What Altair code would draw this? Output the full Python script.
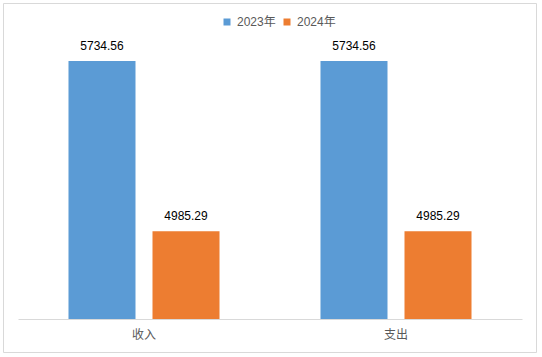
import altair as alt
import pandas as pd

categories = ["收入", "支出"]
years = ["2023年", "2024年"]
values_2023 = [5734.56, 5734.56]
values_2024 = [4985.29, 4985.29]

rows = []
for i, c in enumerate(categories):
    rows.append({"category": c, "year": years[0], "value": values_2023[i]})
    rows.append({"category": c, "year": years[1], "value": values_2024[i]})
df = pd.DataFrame(rows)

FONT = "Liberation Sans, Noto Sans CJK SC, sans-serif"

base = alt.Chart(df).encode(
    x=alt.X("category:N", sort=categories, title=None,
            scale=alt.Scale(paddingInner=0, paddingOuter=0),
            axis=alt.Axis(labelAngle=0, ticks=False, domainColor="#D9D9D9",
                          labelColor="#595959", labelFontSize=12, labelFont=FONT,
                          labelPadding=10, grid=False)),
    xOffset=alt.XOffset("year:N", sort=years,
                        scale=alt.Scale(paddingInner=0.2024, paddingOuter=0.601)),
    y=alt.Y("value:Q", axis=None, scale=alt.Scale(domain=[4600, 5800], zero=False, nice=False)),
)

bars = base.mark_bar(clip=True).encode(
    color=alt.Color("year:N", sort=years,
                    scale=alt.Scale(domain=years, range=["#5B9BD5", "#ED7D31"]),
                    legend=alt.Legend(title=None, orient="none", direction="horizontal",
                                      legendX=203, legendY=-30, symbolType="square",
                                      symbolSize=49, symbolStrokeWidth=0,
                                      labelColor="#595959", labelFontSize=12, labelFont=FONT,
                                      columnPadding=5, labelOffset=4, padding=0))
)

labels = base.mark_text(dy=-15, baseline="middle", fontSize=12, font=FONT, color="#000000").encode(
    text=alt.Text("value:Q", format=".2f")
)

one = pd.DataFrame({"a": [0]})
L, R, T, B = -14.5, 518.5, -42.5, 306.5
border_style = dict(color="#D9D9D9", strokeWidth=1)
top = alt.Chart(one).mark_rule(**border_style).encode(x=alt.value(L), x2=alt.value(R), y=alt.value(T))
bottom = alt.Chart(one).mark_rule(**border_style).encode(x=alt.value(L), x2=alt.value(R), y=alt.value(B))
left = alt.Chart(one).mark_rule(**border_style).encode(x=alt.value(L), y=alt.value(T), y2=alt.value(B))
right = alt.Chart(one).mark_rule(**border_style).encode(x=alt.value(R), y=alt.value(T), y2=alt.value(B))

chart = alt.layer(top, bottom, left, right, bars, labels).properties(
    width=504, height=273,
    padding={"left": 18, "top": 46, "right": 20, "bottom": 38},
    autosize=alt.AutoSizeParams(type="none"),
    background="white",
).configure_view(stroke=None)

chart.save("out.html", embed_options={"renderer": "svg", "actions": False})
